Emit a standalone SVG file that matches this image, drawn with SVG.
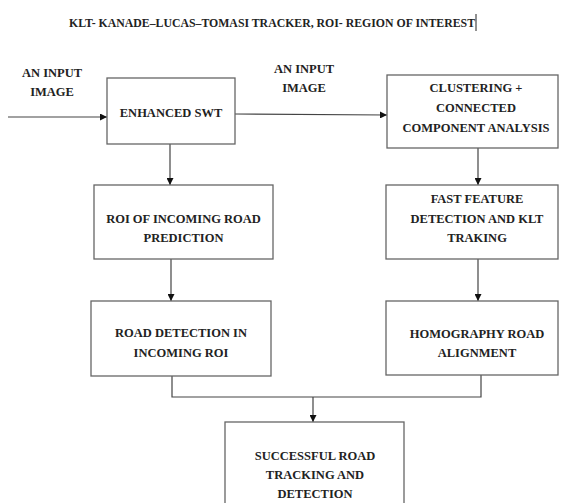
<svg xmlns="http://www.w3.org/2000/svg" width="565" height="503" viewBox="0 0 565 503">
<style>
.box{fill:#fff;stroke:#666;stroke-width:1.3}
.t{font-family:"Liberation Serif","Times New Roman",serif;font-weight:bold;font-size:12.5px;fill:#222;text-anchor:middle}
.c{fill:none;stroke:#444;stroke-width:1.2}
</style>
<defs>
<marker id="ah" viewBox="0 0 8 8" refX="8" refY="4" markerWidth="7" markerHeight="7" markerUnits="userSpaceOnUse" orient="auto">
<path d="M0,0 L8,4 L0,8 Z" fill="#111"/>
</marker>
</defs>
<rect width="565" height="503" fill="#fff"/>
<g id="title">
<text class="t" x="272" y="26.5" font-size="11.5" textLength="406" lengthAdjust="spacingAndGlyphs">KLT- KANADE–LUCAS–TOMASI TRACKER, ROI- REGION OF INTEREST</text>
<line x1="476" y1="14" x2="476" y2="31" stroke="#222" stroke-width="1"/>
</g>
<g id="connectors">
<line class="c" x1="8" y1="117" x2="107" y2="117" marker-end="url(#ah)"/>
<line class="c" x1="235" y1="114" x2="387" y2="115" marker-end="url(#ah)"/>
<line class="c" x1="170" y1="144" x2="170" y2="185" marker-end="url(#ah)"/>
<line class="c" x1="171" y1="259" x2="171" y2="301" marker-end="url(#ah)"/>
<line class="c" x1="478" y1="148" x2="478" y2="185" marker-end="url(#ah)"/>
<line class="c" x1="478" y1="259" x2="478" y2="301" marker-end="url(#ah)"/>
<path class="c" d="M172,376 V397 H481 V375"/>
<line class="c" x1="313" y1="397" x2="313" y2="422" marker-end="url(#ah)"/>
</g>
<g id="label-input-left">
<text class="t" x="52" y="77">AN INPUT</text>
<text class="t" x="52" y="96">IMAGE</text>
</g>
<g id="label-input-right">
<text class="t" x="304" y="73">AN INPUT</text>
<text class="t" x="304" y="92">IMAGE</text>
</g>
<g id="enhanced-swt">
<rect class="box" x="107" y="78" width="128" height="66"/>
<text class="t" x="171" y="117">ENHANCED SWT</text>
</g>
<g id="clustering">
<rect class="box" x="387" y="75" width="171" height="73"/>
<text class="t" x="476" y="92">CLUSTERING +</text>
<text class="t" x="476" y="112">CONNECTED</text>
<text class="t" x="476" y="132">COMPONENT ANALYSIS</text>
</g>
<g id="roi-prediction">
<rect class="box" x="94" y="185" width="179" height="74"/>
<text class="t" x="183.5" y="223">ROI OF INCOMING ROAD</text>
<text class="t" x="183.5" y="242">PREDICTION</text>
</g>
<g id="fast-feature">
<rect class="box" x="386" y="185" width="172" height="74"/>
<text class="t" x="477" y="203">FAST FEATURE</text>
<text class="t" x="477" y="223">DETECTION AND KLT</text>
<text class="t" x="477" y="242">TRAKING</text>
</g>
<g id="road-detection">
<rect class="box" x="91" y="301" width="180" height="75"/>
<text class="t" x="181" y="337">ROAD DETECTION IN</text>
<text class="t" x="181" y="357">INCOMING ROI</text>
</g>
<g id="homography">
<rect class="box" x="386" y="301" width="172" height="74"/>
<text class="t" x="477" y="338">HOMOGRAPHY ROAD</text>
<text class="t" x="477" y="357">ALIGNMENT</text>
</g>
<g id="successful">
<rect class="box" x="225" y="422" width="179" height="100"/>
<text class="t" x="315" y="460">SUCCESSFUL ROAD</text>
<text class="t" x="315" y="479">TRACKING AND</text>
<text class="t" x="315" y="498">DETECTION</text>
</g>
</svg>
